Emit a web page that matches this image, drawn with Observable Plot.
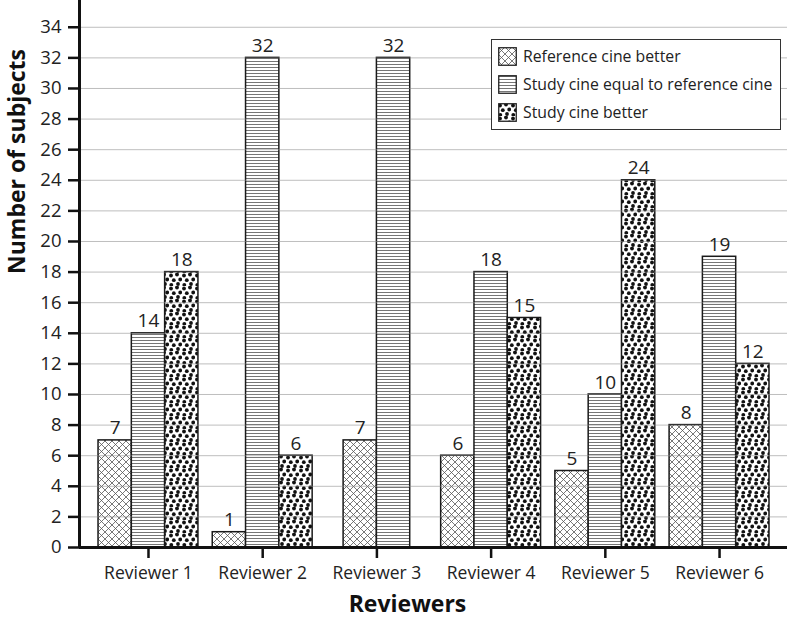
<!DOCTYPE html>
<html>
<head>
<meta charset="utf-8">
<script src="https://cdn.jsdelivr.net/npm/d3@7"></script>
<script src="https://cdn.jsdelivr.net/npm/@observablehq/plot@0.6"></script>
<style>
  body { margin: 0; background: #fff; font-family: "Open Sans", sans-serif; }
  #wrap { position: relative; width: 793px; height: 618px; }
  #legend { position: absolute; left: 491px; top: 39px; width: 288px; height: 89px;
    border: 1.3px solid #333; background: #fff; box-sizing: content-box; }
  .row { position: absolute; left: 6px; display: flex; align-items: center; font-size: 15.8px; color: #222; white-space: nowrap; }
  .row svg { margin-right: 6px; }
</style>
</head>
<body>
<svg width="0" height="0" style="position:absolute">
  <defs>
    <pattern id="pat-ref" patternUnits="userSpaceOnUse" width="7" height="7">
      <rect width="7" height="7" fill="#fff"/>
      <path d="M0,0L7,7M0,7L7,0M-1,1L1,-1M6,8L8,6M-1,6L1,8M6,-1L8,1" stroke="#555" stroke-width="0.8"/>
    </pattern>
    <pattern id="pat-eq" patternUnits="userSpaceOnUse" width="6" height="3">
      <rect width="6" height="3" fill="#fff"/>
      <path d="M0,1.5L6,1.5" stroke="#666" stroke-width="0.9"/>
    </pattern>
    <pattern id="pat-st" patternUnits="userSpaceOnUse" width="13" height="13">
      <rect width="13" height="13" fill="#fff"/>
      <g fill="#111">
        <circle cx="2" cy="2.5" r="1.9"/>
        <circle cx="8" cy="1.5" r="1.9"/>
        <circle cx="11.2" cy="6.5" r="1.9"/>
        <circle cx="4.8" cy="7.2" r="1.9"/>
        <circle cx="9" cy="11" r="1.9"/>
        <circle cx="2.3" cy="11.8" r="1.9"/>
      </g>
    </pattern>
  </defs>
</svg>
<div id="wrap">
  <div id="chart"></div>
  <div id="legend"></div>
</div>
<script>
const categories = ["Reviewer 1", "Reviewer 2", "Reviewer 3", "Reviewer 4", "Reviewer 5", "Reviewer 6"];
const seriesNames = ["Reference cine better", "Study cine equal to reference cine", "Study cine better"];
const seriesKeys = ["ref", "eq", "st"];
const referenceBetter = [7, 1, 7, 6, 5, 8];
const studyEqual = [14, 32, 32, 18, 10, 19];
const studyBetter = [18, 6, 0, 15, 24, 12];
const yTicks = [0, 2, 4, 6, 8, 10, 12, 14, 16, 18, 20, 22, 24, 26, 28, 30, 32, 34];

const seriesValues = [referenceBetter, studyEqual, studyBetter];
const barW = 0.2916;
const xDomain = [-0.604, 5.595];
const yDomain = [0, 35.75];

// build bars: non-zero series per reviewer, centred within the group
const bars = [];
categories.forEach((c, i) => {
  const present = seriesValues.map((v, s) => ({s, value: v[i]})).filter(d => d.value > 0);
  const n = present.length;
  present.forEach((d, k) => {
    const x1 = i + (k - n / 2) * barW;
    bars.push({reviewer: c, i, key: seriesKeys[d.s], value: d.value, x1, x2: x1 + barW, xc: x1 + barW / 2});
  });
});

const barMarks = seriesKeys.map(key =>
  Plot.rectY(bars.filter(d => d.key === key), {
    x1: "x1", x2: "x2", y1: 0, y2: "value",
    fill: `url(#pat-${key})`, stroke: "#1a1a1a", strokeWidth: 1.5
  })
);

const chart = Plot.plot({
  width: 793, height: 618,
  marginLeft: 79, marginRight: 6, marginTop: 0, marginBottom: 71,
  x: {domain: xDomain, axis: null},
  y: {domain: yDomain, axis: null},
  style: {fontFamily: "Open Sans, sans-serif", color: "#222", background: "#fff"},
  marks: [
    ...barMarks,
    Plot.gridY(yTicks.slice(1), {stroke: "#888", strokeOpacity: 0.55, strokeWidth: 1}),
    Plot.text(bars, {x: "xc", y: "value", text: "value", dy: -12, fontSize: 19, fill: "#222"}),
    Plot.axisY({ticks: yTicks, tickSize: 11, tickPadding: 7, strokeWidth: 2.5, fontSize: 18.5, label: null, fill: "#222", stroke: "#111"}),
    Plot.axisX({ticks: d3.range(categories.length), tickFormat: i => categories[i], tickSize: 11, tickPadding: 8, strokeWidth: 2.5, fontSize: 17.5, label: null, fill: "#222", stroke: "#111"}),
    Plot.ruleY([0], {stroke: "#111", strokeWidth: 3}),
    Plot.ruleX([xDomain[0]], {y1: yDomain[0], y2: yDomain[1], stroke: "#111", strokeWidth: 3}),
    Plot.text(["Reviewers"], {frameAnchor: "bottom", dy: 64, dx: -26, fontSize: 23, fontWeight: "bold", fill: "#111"}),
    Plot.text(["Number of subjects"], {frameAnchor: "left", dx: -62, rotate: -90, fontSize: 23, fontWeight: "bold", fill: "#111"})
  ]
});
document.getElementById("chart").appendChild(chart);

const legend = document.getElementById("legend");
seriesNames.forEach((name, s) => {
  const row = document.createElement("div");
  row.className = "row";
  row.style.top = (5 + s * 28) + "px";
  row.innerHTML = `<svg width="19" height="19"><rect x="0.75" y="0.75" width="17.5" height="17.5" fill="url(#pat-${seriesKeys[s]})" stroke="#222" stroke-width="1.3"/></svg><span>${name}</span>`;
  legend.appendChild(row);
});
</script>
</body>
</html>
